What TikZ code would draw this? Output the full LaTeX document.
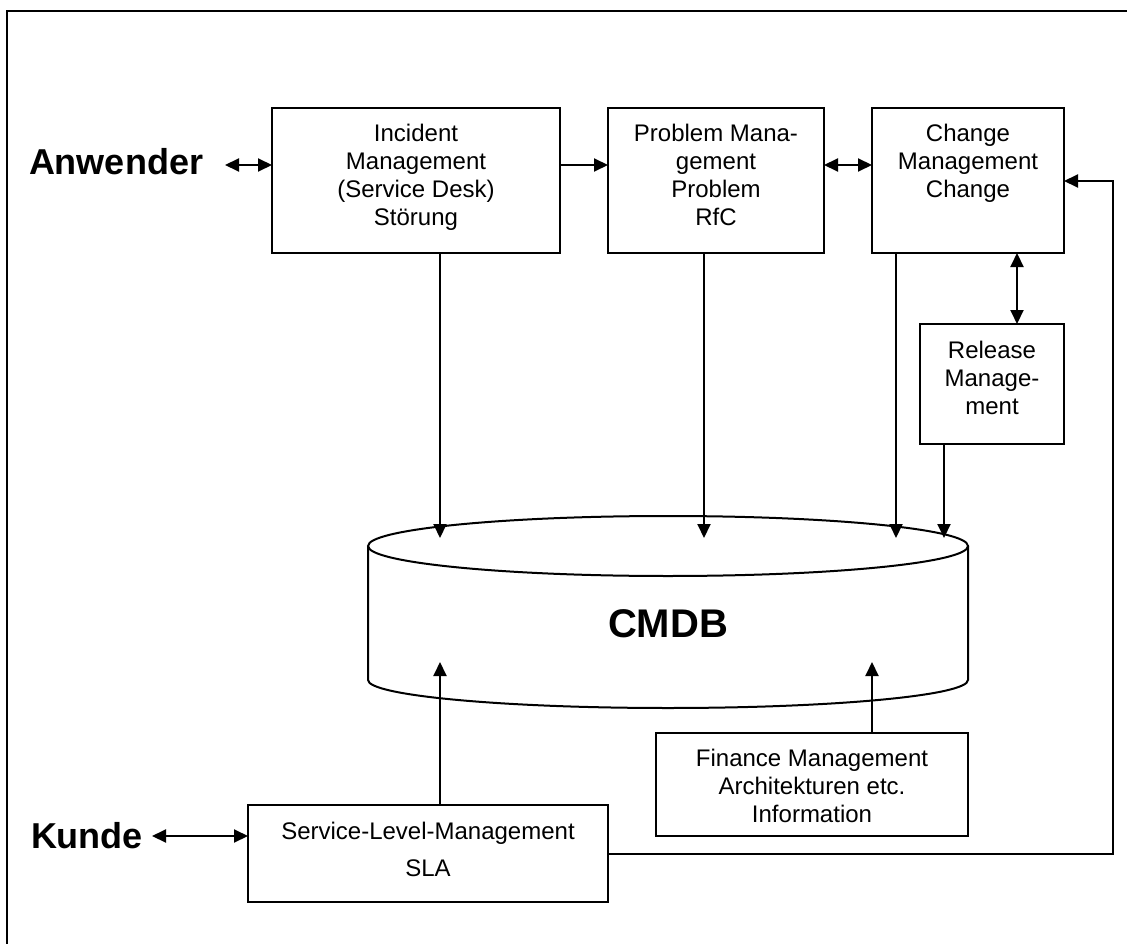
\documentclass[tikz,border=0pt]{standalone}
\usepackage{fontspec}
\setmainfont{Liberation Sans}
\usetikzlibrary{arrows.meta}
\begin{document}
\begin{tikzpicture}[x=1pt,y=-1pt,
  line width=2pt,
  box/.style={draw, rectangle, inner sep=0pt, outer sep=0pt},
  txt/.style={inner sep=0pt, outer sep=0pt, align=center, anchor=north,
              font=\fontsize{24}{28}\selectfont},
  big/.style={inner sep=0pt, anchor=base west,
              font=\fontsize{36}{40}\selectfont\bfseries},
  arr/.style={-{Triangle[length=14pt,width=13pt]}},
  dbl/.style={{Triangle[length=14pt,width=13pt]}-{Triangle[length=14pt,width=13pt]}}]
\useasboundingbox (0,0) rectangle (1127,944);
\clip (0,0) rectangle (1127,944);

% outer frame (only its top and left edges fall on the page)
\draw (6.5,11.5) rectangle (1160,980);

% process boxes
\node[box, minimum width=288, minimum height=145] (inc) at (416,180.5) {};
\node[box, minimum width=216, minimum height=145] (prb) at (716,180.5) {};
\node[box, minimum width=192, minimum height=145] (chg) at (968,180.5) {};
\node[box, minimum width=144, minimum height=120] (rel) at (992,384) {};
\node[box, minimum width=312, minimum height=103] (fin) at (812,784.5) {};
\node[box, minimum width=360, minimum height=97]  (sla) at (428,853.5) {};

% box texts
\node[txt] (incT) at (416,124) {Incident\\Management\\(Service Desk)\\Störung};
\node[txt] (prbT) at (716,124) {Problem Mana-\\gement\\Problem\\RfC};
\node[txt] (chgT) at (968,124) {Change\\Management\\Change};
\node[txt] (relT) at (992,341) {Release\\Manage-\\ment};
\node[txt] (finT) at (812,749) {Finance Management\\Architekturen etc.\\Information};
\node[txt, font=\fontsize{24}{37}\selectfont] (slaT) at (428,822) {Service-Level-Management\\SLA};

% actors
\node[big] (anw) at (28,175) {Anwender};
\node[big] (kun) at (30,848) {Kunde};

% CMDB cylinder
\draw (668,546) ellipse [x radius=300, y radius=30];
\draw (368,546) -- (368,680) arc[start angle=180, end angle=0, x radius=300, y radius=28] -- (968,546);
\node[inner sep=0pt, anchor=base, font=\fontsize{40}{44}\selectfont\bfseries] (cmdb) at (668,637) {CMDB};

% connector end points
\coordinate (anwR) at (225,165);
\coordinate (kunR) at (152,836);
\coordinate (crx)  at (1017,0);
\coordinate (tA) at (440,538);
\coordinate (tB) at (704,538);
\coordinate (tC) at (896,538);
\coordinate (tD) at (944,538);
\coordinate (uA) at (440,662);
\coordinate (uB) at (872,662);
\coordinate (bend) at (1113,181);

% horizontal flow
\draw[dbl] (anwR) -- (anwR -| inc.west);
\draw[arr] (inc.east |- anwR) -- (prb.west |- anwR);
\draw[dbl] (prb.east |- anwR) -- (chg.west |- anwR);
\draw[dbl] (chg.south -| crx) -- (rel.north -| crx);
\draw[dbl] (kunR) -- (sla.west |- kunR);

% into the CMDB
\draw[arr] (inc.south -| tA) -- (tA);
\draw[arr] (prb.south -| tB) -- (tB);
\draw[arr] (chg.south -| tC) -- (tC);
\draw[arr] (rel.south -| tD) -- (tD);
\draw[arr] (sla.north -| uA) -- (uA);
\draw[arr] (fin.north -| uB) -- (uB);

% SLA feedback to change management
\draw[arr] (sla.east) -| (bend) -- (chg.east |- bend);
\end{tikzpicture}
\end{document}
